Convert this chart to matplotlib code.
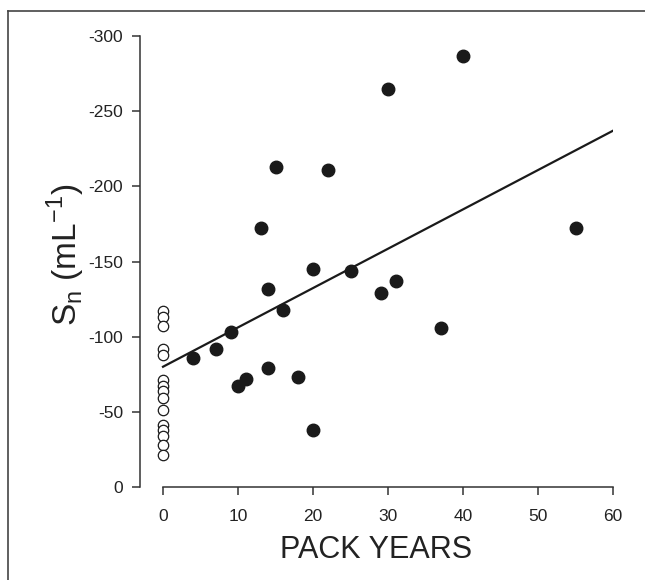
import matplotlib
matplotlib.use("Agg")
import matplotlib.pyplot as plt
from matplotlib.lines import Line2D

plt.rcParams['font.family'] = ['Liberation Sans', 'DejaVu Sans']
plt.rcParams['mathtext.fontset'] = 'custom'
plt.rcParams['mathtext.rm'] = 'Liberation Sans'

# smokers (filled)
smoker_pack_years = [4, 7, 9, 10, 11, 13, 14, 14, 15, 16, 18, 20, 20, 22, 25, 29, 30, 31, 37, 40, 55]
smoker_sn = [-86, -92, -103, -67, -72, -172, -132, -79, -213, -118, -73, -145, -38, -211, -144,
             -129, -265, -137, -106, -287, -172]

# non-smokers (open)
nonsmoker_pack_years = [0] * 15
nonsmoker_sn = [-117, -113, -107, -92, -88, -71, -67, -64, -59, -51, -41, -38, -34, -28, -21]

# regression line
fit_x = [0, 60]
fit_y = [-80, -237]

xticks = [0, 10, 20, 30, 40, 50, 60]
yticks = [0, -50, -100, -150, -200, -250, -300]
ytick_labels = ['0', '-50', '-100', '-150', '-200', '-250', '-300']

W, H = 645, 580
fig = plt.figure(figsize=(W / 100, H / 100), dpi=100)
ax = fig.add_axes([140 / W, 1 - 487 / H, (613 - 140) / W, (487 - 36) / H])

ax.plot(fit_x, fit_y, color='#1a1a1a', lw=1.6, zorder=2)
ax.plot(smoker_pack_years, smoker_sn, 'o', ms=9, color='#1a1a1a', mec='#1a1a1a',
        clip_on=False, zorder=3)
ax.plot(nonsmoker_pack_years, nonsmoker_sn, 'o', ms=7.5, mfc='white', mec='#1a1a1a',
        mew=0.9, clip_on=False, zorder=3)

ax.set_xlim(-3.07, 60)
ax.set_ylim(0, -300)
ax.spines['top'].set_visible(False)
ax.spines['right'].set_visible(False)
ax.spines['bottom'].set_bounds(0, 60)
for s in ('left', 'bottom'):
    ax.spines[s].set_color('#333333')
    ax.spines[s].set_linewidth(1.1)

ax.set_xticks(xticks)
ax.set_yticks(yticks)
ax.set_yticklabels(ytick_labels)
ax.tick_params(direction='out', length=6, width=1.1, labelsize=12.5, colors='#333333',
               labelcolor='#222222')
ax.tick_params(axis='x', pad=10)
ax.tick_params(axis='y', pad=6)

ax.set_xlabel('PACK YEARS', fontsize=22, color='#222222', labelpad=8)
ax.set_ylabel(r'S$_{\mathregular{n}}$ (mL$^{\mathregular{-1}}$)', fontsize=24,
              color='#222222')
ax.yaxis.set_label_coords(-0.113, 0.515)

# page frame
fig.add_artist(Line2D([8 / W, 1], [1 - 11 / H, 1 - 11 / H], color='#444444', lw=1.2))
fig.add_artist(Line2D([8 / W, 8 / W], [0, 1 - 11 / H], color='#444444', lw=1.2))

fig.savefig('out.png', dpi=100)
